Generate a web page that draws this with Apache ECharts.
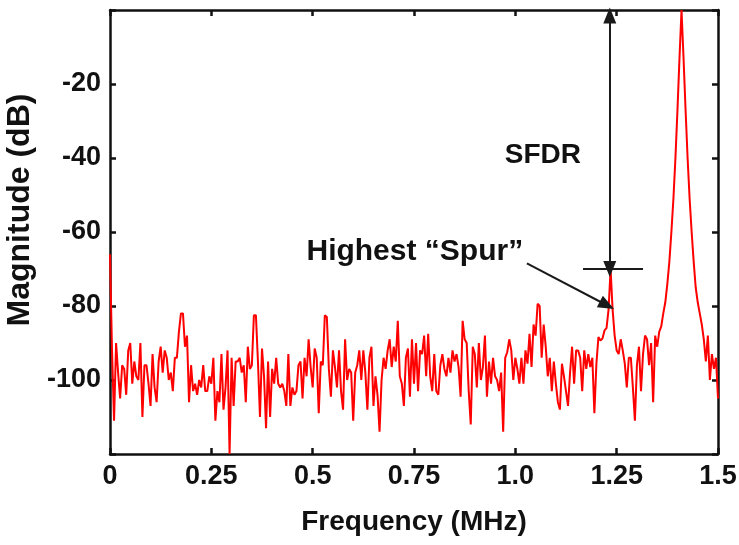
<!DOCTYPE html>
<html>
<head>
<meta charset="utf-8">
<script src="https://cdn.jsdelivr.net/npm/echarts@6/dist/echarts.min.js"></script>
<style>
html,body{margin:0;padding:0;background:#fff;}
#chart{width:739px;height:545px;}
</style>
</head>
<body>
<div id="chart"></div>
<script>
// Frequency grid (MHz): samples every 0.005 MHz from 0 to 1.5
const FREQ_STEP = 0.005;
// Magnitude (dB), segment by segment
const mag0to025 = [-66,-92,-111,-90,-98,-105,-96,-97,-104,-92, -90,-101,-95,-99,-100,-90,-110,-96,-96,-101, -107,-93,-102,-106,-95,-91,-98,-92,-94,-100, -98,-103,-94,-94,-87,-82,-82,-91,-88,-106, -96,-103,-101,-104,-100,-102,-96,-103,-103,-99];
const mag025to05 = [-101,-94,-111,-103,-106,-93,-108,-102,-92,-120, -94,-107,-95,-95,-94,-98,-96,-106,-91,-97, -96,-82.5,-82.5,-95,-110,-91.5,-99,-113,-95,-110, -97,-101,-94,-101,-102,-101,-103,-107,-93,-107, -102,-104,-103,-96,-95,-105,-94,-99,-89,-96.5];
const mag05to075 = [-102,-91.5,-94,-109,-95,-96,-82.5,-83,-97,-104.5, -92,-96.5,-102,-92,-103,-108,-89,-100,-97,-98, -111,-98,-96,-92,-100,-92,-98,-108,-94,-91, -107,-99,-104,-114,-100,-94,-97,-92,-89,-96.5, -91,-95,-84,-99,-101,-107,-94,-91.5,-104.5,-89];
const mag075to1 = [-101,-90,-103,-92,-93,-88,-99,-87.5,-99,-103, -93,-103,-104,-96,-93,-97,-99,-94,-98,-92, -95,-93,-96.5,-104.5,-84,-89,-90,-103,-112,-91, -93,-102,-90,-100,-96.5,-88,-104.5,-95,-101,-94, -99,-100,-103,-98,-114,-94,-92.5,-89,-92,-100];
const mag1to125 = [-94,-97,-101,-94,-101,-92,-95.6,-87.5,-96.5,-85, -88,-79.4,-80,-94,-85,-91,-99,-94,-103,-95, -101,-106,-108,-95.6,-99,-103,-107,-98,-91,-101, -92,-92,-94,-103,-92,-97,-93,-96.5,-94,-109, -95.6,-88.4,-89.3,-88.8,-86.6,-86,-81,-70,-81,-88];
const mag125to15 = [-92,-93,-89,-92,-95.5,-102,-94,-94,-102,-111, -96,-91,-103,-93,-88,-89,-96,-90,-106,-88, -91,-87,-85.5,-82,-79,-74,-68,-60,-51,-40, -27,-13,0,-13,-27,-40,-51,-60,-68,-75, -79,-82,-85,-89,-95,-88,-100,-93,-97,-94, -105];

// Axis ticks
const xTicks = [0, 0.25, 0.5, 0.75, 1.0, 1.25, 1.5];
const xTickLabels = ['0', '0.25', '0.5', '0.75', '1.0', '1.25', '1.5'];
const yTicks = [-20, -40, -60, -80, -100];

// Annotations (data coordinates)
const spurFreq = 1.233;
const spurLevel = -70;
const carrierTop = -1.5;
const spurLevelLine = [1.167, 1.315];
const spurPointerFrom = [1.0286, -68.5];
const spurPointerTo = [1.226, -79.8];
const sfdrLabelAt = [1.068, -39.4];
const spurLabelAt = [0.752, -65.3];

const mags = [].concat(mag0to025, mag025to05, mag05to075, mag075to1, mag1to125, mag125to15);
const seriesData = mags.map((v, i) => [+(i * FREQ_STEP).toFixed(3), v]);

const FONT = '"Liberation Sans", Arial, Helvetica, sans-serif';
const INK = '#111';

const chart = echarts.init(document.getElementById('chart'), null, {renderer: 'canvas'});

function xAxisCommon(extra) {
  return Object.assign({
    type: 'value', min: 0, max: 1.5, interval: 0.25,
    axisLine: {show: true, onZero: false, lineStyle: {color: INK, width: 2.5}},
    axisTick: {show: true, inside: true, length: 6, lineStyle: {color: INK, width: 2.5}},
    splitLine: {show: false}
  }, extra);
}
function yAxisCommon(extra) {
  return Object.assign({
    type: 'value', min: -120, max: 0, interval: 20,
    axisLine: {show: true, onZero: false, lineStyle: {color: INK, width: 2.5}},
    axisTick: {show: true, inside: true, length: 6, lineStyle: {color: INK, width: 2.5}},
    splitLine: {show: false}
  }, extra);
}

const option = {
  animation: false,
  backgroundColor: '#fff',
  grid: {left: 110, right: 21, top: 10, bottom: 91, containLabel: false, outerBoundsMode: 'none'},
  xAxis: [
    xAxisCommon({
      position: 'bottom',
      name: 'Frequency (MHz)', nameLocation: 'middle', nameGap: 54,
      nameTextStyle: {fontFamily: FONT, fontWeight: 'bold', fontSize: 28, color: INK},
      axisLabel: {
        margin: 9, fontFamily: FONT, fontWeight: 'bold', fontSize: 27, color: INK,
        formatter: function (v) {
          const idx = xTicks.findIndex(t => Math.abs(t - v) < 1e-6);
          return idx >= 0 ? xTickLabels[idx] : '';
        }
      }
    }),
    xAxisCommon({position: 'top', axisLabel: {show: false}})
  ],
  yAxis: [
    yAxisCommon({
      position: 'left',
      name: 'Magnitude (dB)', nameLocation: 'middle', nameGap: 72,
      nameTextStyle: {fontFamily: FONT, fontWeight: 'bold', fontSize: 32, color: INK, padding: [0, 0, 0, 44]},
      axisLabel: {
        margin: 9, fontFamily: FONT, fontWeight: 'bold', fontSize: 27, color: INK,
        formatter: function (v) {
          return yTicks.indexOf(v) >= 0 ? String(v) : '';
        }
      }
    }),
    yAxisCommon({position: 'right', axisLabel: {show: false}})
  ],
  series: [{
    type: 'line',
    xAxisIndex: 0, yAxisIndex: 0,
    data: seriesData,
    showSymbol: false,
    symbol: 'none',
    clip: true,
    lineStyle: {color: '#ff0000', width: 2},
    z: 2,
    markLine: {
      silent: true,
      animation: false,
      symbolSize: [13, 16],
      label: {show: false},
      lineStyle: {color: '#1a1a1a', width: 2, type: 'solid'},
      data: [
        [{coord: [spurFreq, carrierTop], symbol: 'triangle'}, {coord: [spurFreq, spurLevel], symbol: 'triangle'}],
        [{coord: [spurLevelLine[0], spurLevel], symbol: 'none'}, {coord: [spurLevelLine[1], spurLevel], symbol: 'none'}],
        [{coord: spurPointerFrom, symbol: 'none'}, {coord: spurPointerTo, symbol: 'triangle'}]
      ]
    },
    markPoint: {
      silent: true,
      symbol: 'circle',
      symbolSize: 0,
      itemStyle: {color: 'rgba(0,0,0,0)'},
      label: {show: true, position: 'inside', fontFamily: FONT, fontWeight: 'bold', fontSize: 28, color: INK},
      data: [
        {coord: sfdrLabelAt, value: 'SFDR', label: {formatter: 'SFDR'}},
        {coord: spurLabelAt, value: 'Highest “Spur”', label: {formatter: 'Highest “Spur”', fontSize: 30}}
      ]
    }
  }]
};
chart.setOption(option);
</script>
</body>
</html>
